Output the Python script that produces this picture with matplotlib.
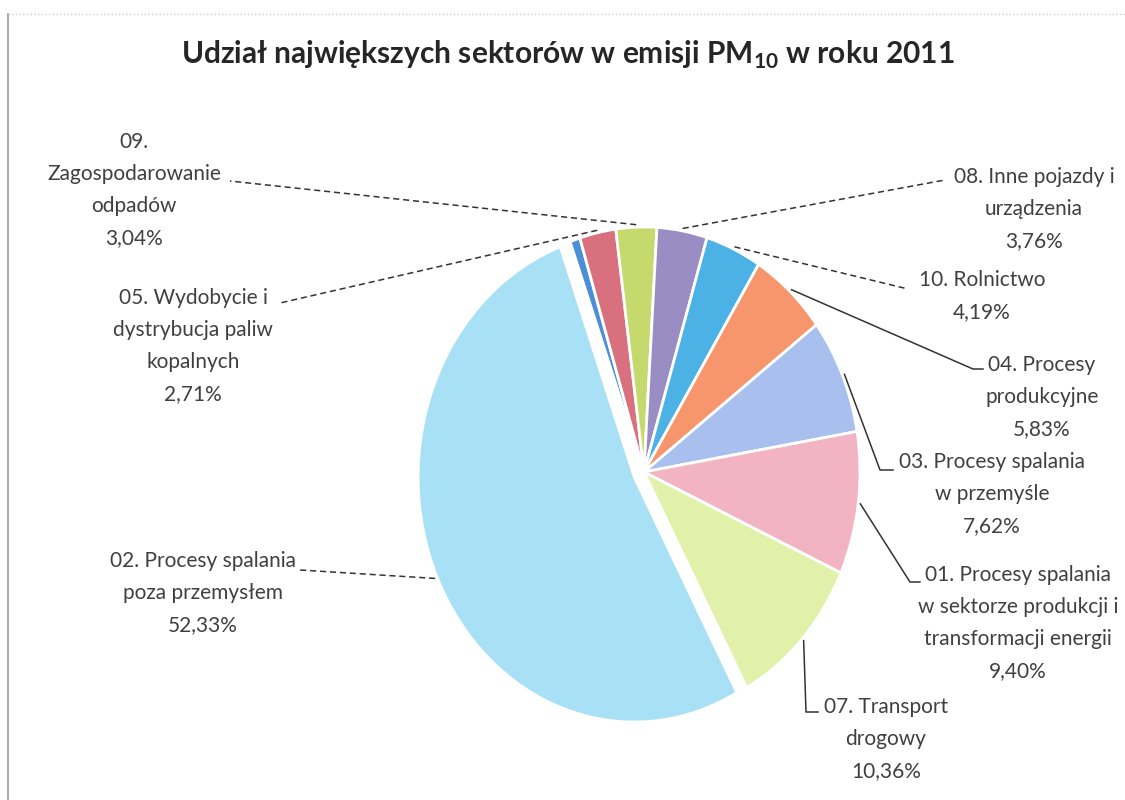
import numpy as np
import matplotlib
matplotlib.use("Agg")
import matplotlib.pyplot as plt
from matplotlib.lines import Line2D

plt.rcParams['font.family'] = ['Lato', 'DejaVu Sans']
plt.rcParams['mathtext.fontset'] = 'custom'
plt.rcParams['mathtext.rm'] = 'Lato'
plt.rcParams['mathtext.bf'] = 'Lato:bold'

# slices clockwise, first one is the tiny unlabelled sector
labels = ['',
          '05. Wydobycie i\ndystrybucja paliw\nkopalnych',
          '09.\nZagospodarowanie\nodpadów',
          '08. Inne pojazdy i\nurządzenia',
          '10. Rolnictwo',
          '04. Procesy\nprodukcyjne',
          '03. Procesy spalania\nw przemyśle',
          '01. Procesy spalania\nw sektorze produkcji i\ntransformacji energii',
          '07. Transport\ndrogowy',
          '02. Procesy spalania\npoza przemysłem']
shares = [0.76, 2.71, 3.04, 3.76, 4.19, 5.83, 7.62, 9.40, 10.36, 52.33]
colors = ['#4a8fd8', '#d9707e', '#c5d96c', '#9a8dc4', '#4cb2e6',
          '#f7966c', '#a9c0ee', '#f2b4c3', '#e2f1aa', '#a8e0f5']
explode = [0, 0, 0, 0, 0, 0, 0, 0, 0, 0.05]

W, H = 1125, 800
fig = plt.figure(figsize=(W / 100, H / 100), dpi=100)

def fx(x):
    return x / W

def fy(y):
    return 1 - y / H

# pie is slightly taller than wide in the scan
cx, cy, rx, ry = 644, 472, 216, 245
ax = fig.add_axes([fx(cx - 1.25 * rx), fy(cy + 1.25 * ry), 2.5 * rx / W, 2.5 * ry / H])
wedges, _ = ax.pie(shares, colors=colors, explode=explode, startangle=110,
                   counterclock=False,
                   wedgeprops=dict(edgecolor='white', linewidth=2))
ax.set_aspect('auto')
ax.set_xlim(-1.25, 1.25)
ax.set_ylim(-1.25, 1.25)
ax.axis('off')

fig.text(fx(568), fy(64), r'Udział największych sektorów w emisji PM$_{\mathbf{10}}$ w roku 2011',
         ha='center', va='baseline', fontsize=21.5, fontweight='bold', color='#262626')

# label layout: text centre x, top y, leader path (pixels), dashed
layout = {
    1: (193, 288, [(280, 303)], True),
    2: (134, 132, [(230, 181)], True),
    3: (1034, 167, [(945, 180)], True),
    4: (982, 270, [(908, 289)], True),
    5: (1042, 355, [(973, 369), (983, 369)], False),
    6: (992, 452, [(880, 470), (893, 470)], False),
    7: (1018, 565, [(910, 582), (920, 582)], False),
    8: (886, 697, [(806, 712), (818, 712)], False),
    9: (203, 551, [(300, 570)], True),
}

to_fig = fig.transFigure.inverted()
for i, w in enumerate(wedges):
    if not labels[i]:
        continue
    tx, ty, path, dashed = layout[i]
    mid = np.deg2rad((w.theta1 + w.theta2) / 2)
    ox, oy = w.center
    anchor = (ox + 1.01 * np.cos(mid), oy + 1.01 * np.sin(mid))
    a = to_fig.transform(ax.transData.transform(anchor))
    xs = [a[0]] + [fx(p[0]) for p in path]
    ys = [a[1]] + [fy(p[1]) for p in path]
    fig.add_artist(Line2D(xs, ys, transform=fig.transFigure, color='#333333',
                          linewidth=1.1, linestyle=(0, (4, 2.5)) if dashed else '-'))
    pct = f'{shares[i]:.2f}%'.replace('.', ',')
    fig.text(fx(tx), fy(ty), labels[i] + '\n' + pct, ha='center', va='top',
             fontsize=15, color='#404040', linespacing=1.75)

# scanned chart frame
fig.add_artist(Line2D([fx(8), fx(8)], [fy(14), 0], transform=fig.transFigure,
                      color='#999999', linewidth=1.2))
fig.add_artist(Line2D([fx(8), 1], [fy(14), fy(14)], transform=fig.transFigure,
                      color='#cccccc', linewidth=1, linestyle=':'))

fig.savefig('out.png', dpi=100, facecolor='white')
